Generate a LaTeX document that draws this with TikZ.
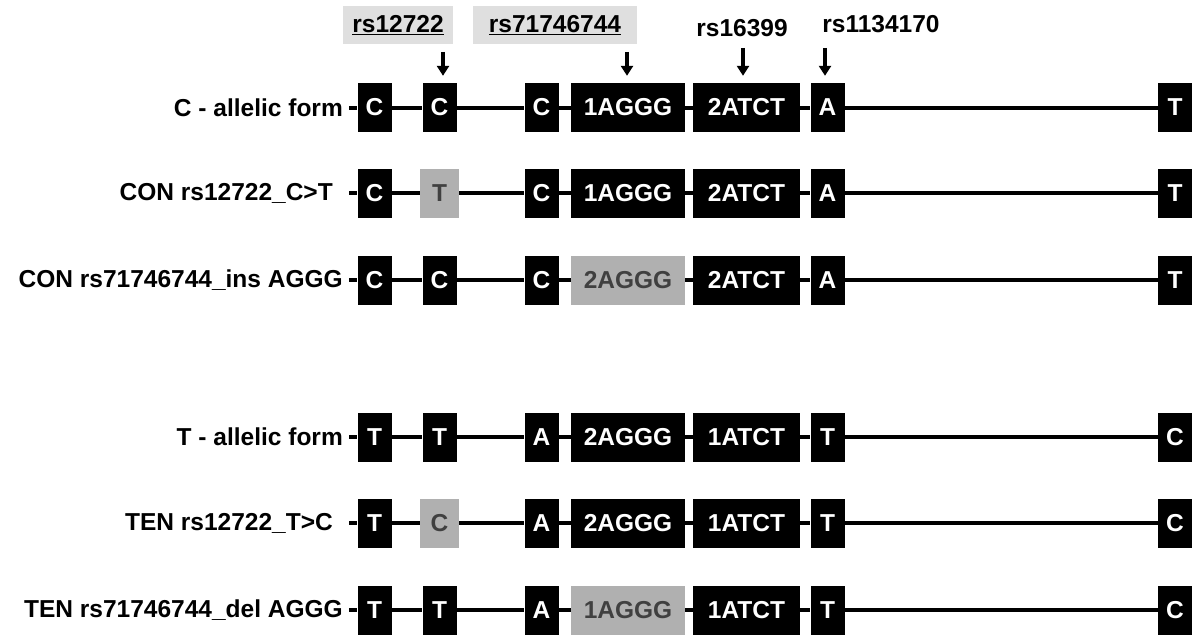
\documentclass[tikz,border=0pt]{standalone}
\usepackage{fontspec}
\setmainfont{Liberation Sans}
\usetikzlibrary{arrows.meta,positioning}
\tikzset{
  exon/.style  ={rectangle,fill=black,text=white,minimum width=34pt,minimum height=49pt,inner sep=0pt},
  plain/.style ={},
  var/.style   ={fill=gray!62,text=black!75},
  varsm/.style ={var,minimum width=39pt},
  wide/.style  ={minimum width=114pt},
  mid/.style   ={minimum width=107pt},
  strand/.style={line width=4pt},
  snp/.style   ={line width=3.5pt,-{Triangle[width=12pt,length=10pt]},shorten >=7pt},
  rowlab/.style={anchor=east,inner sep=0pt},
  hl/.style    ={fill=gray!25,minimum height=38pt,inner sep=0pt},
}
\begin{document}
\begin{tikzpicture}[x=1pt,y=-1pt,font=\fontsize{24.5}{29}\selectfont\bfseries]
  \useasboundingbox (0,0) rectangle (1193,634);
  \foreach \r/\y/\lab/\lx/\ta/\tb/\tc/\td/\te/\tf/\tg/\sb/\sd in {
     1/107.5/{C - allelic form}/343/C/C/C/1AGGG/2ATCT/A/T/plain/plain,
     2/193/{CON rs12722\_C>T}/333/C/T/C/1AGGG/2ATCT/A/T/varsm/plain,
     3/280/{CON rs71746744\_ins AGGG}/343/C/C/C/2AGGG/2ATCT/A/T/plain/var,
     4/437/{T - allelic form}/343/T/T/A/2AGGG/1ATCT/T/C/plain/plain,
     5/523/{TEN rs12722\_T>C}/333/T/C/A/2AGGG/1ATCT/T/C/varsm/plain,
     6/610/{TEN rs71746744\_del AGGG}/343/T/T/A/1AGGG/1ATCT/T/C/plain/var}{
     \node[rowlab] (l\r) at (\lx,\y) {\lab};
     \coordinate (s\r) at (349,\y);
     \node[exon] (a\r) at (374.5,\y) {\ta};
     \node[exon,\sb] (b\r) at (439.5,\y) {\tb};
     \node[exon] (c\r) at (541.5,\y) {\tc};
     \node[exon,wide,\sd] (d\r) at (628,\y) {\td};
     \node[exon,mid] (e\r) at (746.5,\y) {\te};
     \node[exon] (f\r) at (827.5,\y) {\tf};
     \node[exon] (g\r) at (1175,\y) {\tg};
     \draw[strand] (s\r) -- (a\r) -- (b\r) -- (c\r) -- (d\r) -- (e\r) -- (f\r) -- (g\r);
  }
  % snp names above the top row
  \node[hl,minimum width=110pt] (h1) at (398,25) {\underline{rs12722}};
  \node[hl,minimum width=164pt] (h2) at (555,25) {\underline{rs71746744}};
  \node (h3) at (742,28) {rs16399};
  \node (h4) at (881,24) {rs1134170};
  \foreach \n/\x/\t/\s in {1/443/52/b,2/627/52/d,3/743/48/e,4/825/48/f}{
     \coordinate (t\n) at (\x,\t);
     \draw[snp] (t\n) -- (t\n |- \s1.north);
  }
\end{tikzpicture}
\end{document}
